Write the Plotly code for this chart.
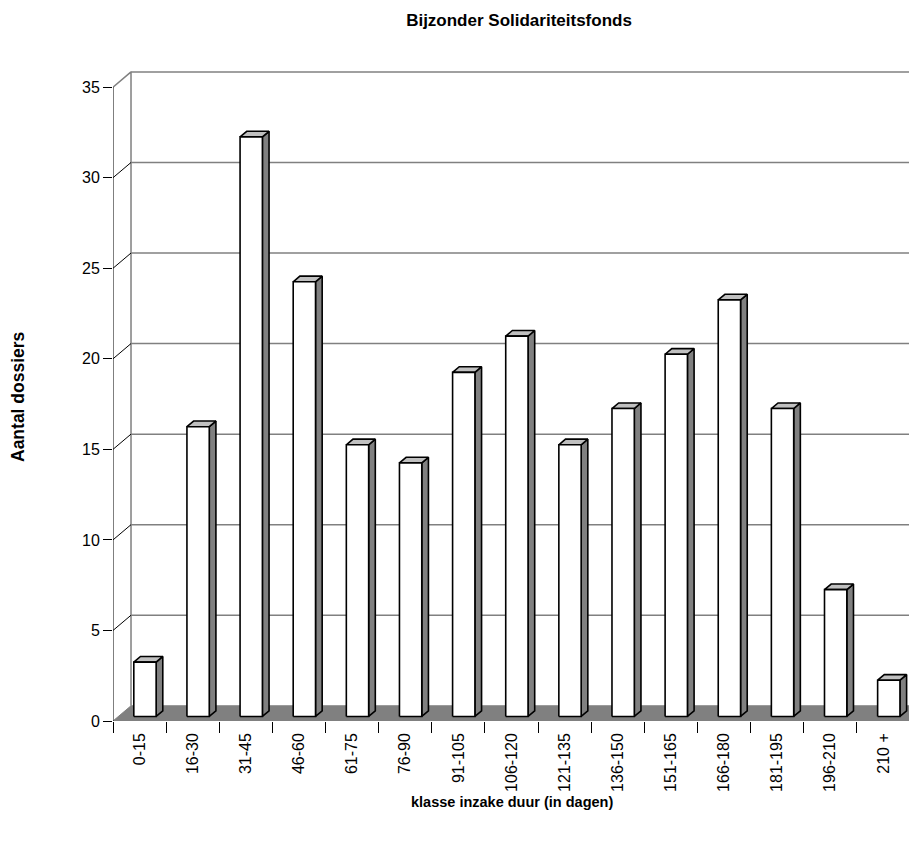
import plotly.graph_objects as go

categories = ["0-15", "16-30", "31-45", "46-60", "61-75", "76-90", "91-105", "106-120",
              "121-135", "136-150", "151-165", "166-180", "181-195", "196-210", "210 +"]
values = [3, 16, 32, 24, 15, 14, 19, 21, 15, 17, 20, 23, 17, 7, 2]
y_ticks = [0, 5, 10, 15, 20, 25, 30, 35]

# pseudo-3D geometry (in axis units)
DX = 0.339   # depth shift along x (category units)
DY = 0.84    # depth shift along y (value units)
BAR_W = 0.42
D0, D1 = 0.30, 0.67  # bar depth extent (fraction of depth)
YMAX = 35
n = len(categories)

fig = go.Figure()

def poly(xs, ys, acc_x, acc_y):
    acc_x.extend(xs + [xs[0], None])
    acc_y.extend(ys + [ys[0], None])

# back wall grid lines
gx, gy = [], []
for t in y_ticks[1:]:
    gx += [DX, 20, None]
    gy += [t + DY, t + DY, None]
fig.add_trace(go.Scatter(x=gx, y=gy, mode="lines", line=dict(color="#808080", width=1.5),
                         hoverinfo="skip", showlegend=False))
# back wall left edge + top diagonal
fig.add_trace(go.Scatter(x=[DX, DX, 0], y=[DY, YMAX + DY, YMAX], mode="lines",
                         line=dict(color="#808080", width=1.5), hoverinfo="skip", showlegend=False))
# side wall diagonals
sx, sy = [], []
for t in y_ticks[1:-1]:
    sx += [0, DX, None]
    sy += [t, t + DY, None]
fig.add_trace(go.Scatter(x=sx, y=sy, mode="lines", line=dict(color="black", width=1),
                         hoverinfo="skip", showlegend=False))
# floor
fig.add_trace(go.Scatter(x=[0, n, n + DX, DX, 0], y=[0, 0, DY, DY, 0], mode="lines",
                         fill="toself", fillcolor="#808080", line=dict(color="#808080", width=1),
                         hoverinfo="skip", showlegend=False))
# front y axis line
fig.add_trace(go.Scatter(x=[0, 0], y=[0, YMAX], mode="lines", line=dict(color="black", width=1),
                         hoverinfo="skip", showlegend=False))

# bars
fx, fy, sdx, sdy, tx, ty = [], [], [], [], [], []
for i, v in enumerate(values):
    x0 = i + 0.5 - BAR_W / 2 + D0 * DX
    x1 = x0 + BAR_W
    yb = D0 * DY
    yt = v + D0 * DY
    ddx = (D1 - D0) * DX
    ddy = (D1 - D0) * DY
    poly([x0, x1, x1, x0], [yb, yb, yt, yt], fx, fy)
    poly([x1, x1 + ddx, x1 + ddx, x1], [yb, yb + ddy, yt + ddy, yt], sdx, sdy)
    poly([x0, x1, x1 + ddx, x0 + ddx], [yt, yt, yt + ddy, yt + ddy], tx, ty)

for xs, ys, col in [(sdx, sdy, "#808080"), (tx, ty, "#c0c0c0"), (fx, fy, "white")]:
    fig.add_trace(go.Scatter(x=xs, y=ys, mode="lines", fill="toself", fillcolor=col,
                             line=dict(color="black", width=1.6), hoverinfo="skip",
                             showlegend=False))

# page has an 8px body margin; work in page pixels and subtract it
OFF = 8
W, H = 917 - OFF, 843 - OFF
left_px = 113 - OFF
right_px = 917 - OFF
cat_px = 53.13
unit_px = 18.11
top_px = 60 - OFF
bottom_px = 721 - OFF

fig.update_layout(
    width=W, height=H,
    paper_bgcolor="white", plot_bgcolor="white",
    margin=dict(l=left_px, r=0, t=top_px, b=H - bottom_px, autoexpand=False),
    font=dict(family="Liberation Sans, Arial, sans-serif", color="black", size=15),
    title=dict(text="<b>Bijzonder Solidariteitsfonds</b>", x=(519 - OFF) / W, xanchor="center",
               y=1 - (20 - OFF) / H, yanchor="middle", font=dict(size=17)),
    xaxis=dict(range=[0, (right_px - left_px) / cat_px], tickmode="array",
               tickvals=[i + 0.5 for i in range(n)], ticktext=categories, tickangle=-90,
               ticks="", showgrid=False, zeroline=False, showline=False, automargin=False,
               tickfont=dict(size=16), ticklabelstandoff=8,
               minor=dict(tickmode="array", tickvals=list(range(n + 1)), ticks="outside",
                          ticklen=11, tickcolor="black", tickwidth=1, showgrid=False)),
    yaxis=dict(range=[0, (bottom_px - top_px) / unit_px], tickmode="array", tickvals=y_ticks,
               ticks="outside", ticklen=9, tickcolor="black", tickwidth=1, automargin=False,
               showgrid=False, zeroline=False, showline=False, tickfont=dict(size=16)),
    annotations=[
        dict(text="<b>klasse inzake duur (in dagen)</b>", xref="paper", yref="paper",
             x=(512 - OFF - left_px) / (right_px - left_px),
             y=-(802 - OFF - bottom_px) / (bottom_px - top_px),
             xanchor="center", yanchor="middle", showarrow=False, font=dict(size=14.5)),
        dict(text="<b>Aantal dossiers</b>", xref="paper", yref="paper", textangle=-90,
             x=-(left_px - (18 - OFF)) / (right_px - left_px),
             y=(bottom_px - (397 - OFF)) / (bottom_px - top_px),
             xanchor="center", yanchor="middle", showarrow=False, font=dict(size=17.5)),
    ],
)

fig.write_html("out.html")
